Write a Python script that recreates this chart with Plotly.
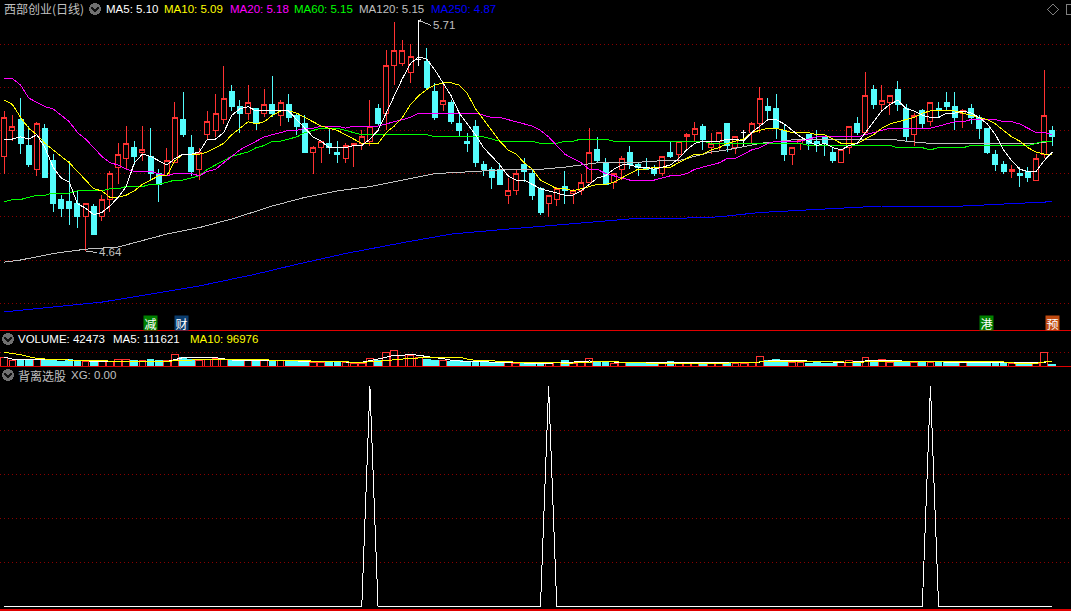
import plotly.graph_objects as go

W, H = 1071, 611

opens = [5.08,5.20,5.25,5.13,5.02,5.21,5.06,4.88,4.87,4.86,
 4.80,4.85,4.80,4.88,5.03,5.07,5.12,5.10,5.08,5.00,
 4.99,5.05,5.25,5.12,5.02,5.18,5.20,5.25,5.38,5.31,
 5.28,5.30,5.28,5.32,5.27,5.32,5.27,5.23,5.10,5.12,
 5.14,5.10,5.07,5.13,5.14,5.15,5.30,5.28,5.50,5.51,
 5.47,5.53,5.52,5.38,5.32,5.33,5.23,5.15,5.22,5.04,
 5.02,5.02,4.90,4.92,5.04,5.00,4.93,4.86,4.88,4.94,
 4.91,4.92,4.96,5.11,5.05,4.96,5.02,5.10,5.04,5.03,
 5.02,5.00,5.10,5.09,5.17,5.18,5.22,5.12,5.15,5.23,
 5.12,5.19,5.19,5.23,5.31,5.30,5.20,5.09,5.14,5.18,
 5.15,5.17,5.10,5.05,5.12,5.23,5.19,5.39,5.32,5.33,
 5.39,5.30,5.18,5.29,5.24,5.30,5.33,5.31,5.28,5.30,
 5.26,5.21,5.09,5.04,5.01,5.00,5.01,4.97,5.09,5.20]
closes = [5.26,5.22,5.14,5.04,5.23,4.98,4.86,4.84,4.84,4.80,
 4.86,4.72,4.88,5.00,5.09,5.14,5.08,5.11,5.00,4.95,
 5.06,5.26,5.18,5.01,5.10,5.24,5.28,5.35,5.31,5.28,
 5.33,5.23,5.32,5.28,5.33,5.26,5.22,5.10,5.12,5.15,
 5.12,5.09,5.13,5.14,5.17,5.22,5.23,5.50,5.57,5.57,
 5.54,5.53,5.40,5.26,5.34,5.24,5.20,5.14,5.05,5.02,
 4.98,4.95,4.92,5.00,5.01,4.90,4.82,4.90,4.93,4.92,
 4.92,4.96,5.10,5.06,4.95,5.00,5.07,5.04,5.03,5.02,
 5.00,5.08,5.08,5.15,5.18,5.21,5.16,5.14,5.19,5.13,
 5.17,5.19,5.23,5.35,5.29,5.21,5.09,5.12,5.16,5.14,
 5.14,5.14,5.06,5.11,5.22,5.19,5.36,5.32,5.34,5.36,
 5.32,5.17,5.27,5.23,5.33,5.29,5.31,5.26,5.29,5.26,
 5.21,5.10,5.04,5.01,5.02,4.99,4.98,5.07,5.27,5.17]
highs = [5.29,5.27,5.35,5.22,5.24,5.23,5.09,4.90,5.06,4.92,
 4.86,4.86,4.90,5.01,5.14,5.22,5.15,5.22,5.21,5.02,
 5.12,5.33,5.38,5.18,5.12,5.29,5.37,5.50,5.41,5.34,
 5.41,5.30,5.39,5.45,5.34,5.37,5.28,5.27,5.13,5.15,
 5.21,5.15,5.14,5.14,5.20,5.34,5.32,5.57,5.70,5.62,
 5.60,5.71,5.58,5.42,5.41,5.34,5.28,5.19,5.25,5.06,
 5.03,5.05,4.98,5.02,5.07,5.02,4.94,4.90,4.94,5.01,
 4.93,5.00,5.21,5.17,5.07,5.00,5.08,5.13,5.05,5.07,
 5.04,5.08,5.15,5.15,5.19,5.24,5.23,5.19,5.19,5.23,
 5.17,5.20,5.24,5.40,5.35,5.37,5.23,5.12,5.16,5.18,
 5.20,5.17,5.12,5.11,5.22,5.26,5.47,5.41,5.41,5.36,
 5.43,5.32,5.28,5.30,5.33,5.33,5.38,5.38,5.30,5.32,
 5.27,5.21,5.11,5.06,5.04,5.03,5.03,5.09,5.48,5.22]
lows = [5.00,5.15,5.09,5.03,4.99,4.98,4.82,4.80,4.76,4.75,
 4.64,4.72,4.78,4.82,4.95,5.02,5.04,5.06,4.97,4.87,
 4.99,5.05,5.17,4.99,4.97,5.16,5.17,5.23,5.29,5.19,
 5.25,5.20,5.26,5.26,5.22,5.24,5.18,5.10,5.00,5.05,
 5.09,5.05,5.05,5.03,5.11,5.13,5.22,5.20,5.41,5.50,
 5.42,5.50,5.39,5.25,5.29,5.23,5.17,5.10,5.03,4.99,
 4.93,4.95,4.86,4.90,4.96,4.88,4.81,4.80,4.85,4.86,
 4.86,4.90,4.96,5.05,4.95,4.93,4.97,5.02,4.99,5.02,
 4.99,4.99,5.07,5.05,5.11,5.15,5.11,5.09,5.11,5.10,
 5.09,5.13,5.14,5.19,5.25,5.16,5.06,5.04,5.11,5.11,
 5.10,5.08,5.05,5.05,5.09,5.18,5.18,5.30,5.29,5.27,
 5.29,5.15,5.13,5.21,5.22,5.26,5.29,5.20,5.21,5.23,
 5.16,5.09,5.01,5.00,4.98,4.94,4.96,4.97,5.07,5.13]

ma5 = [5.16,5.16,5.17,5.16,5.18,5.12,5.03,4.98,4.96,4.86,
 4.84,4.81,4.82,4.85,4.89,4.94,5.05,5.09,5.08,5.06,
 5.04,5.07,5.09,5.09,5.10,5.16,5.16,5.19,5.27,5.30,
 5.31,5.29,5.29,
 5.29,5.29,5.29,5.25,5.21,5.17,5.15,5.12,5.12,5.12,
 5.13,5.13,5.16,5.20,5.28,5.36,5.44,5.51,5.54,5.53,
 5.48,5.42,5.36,5.28,5.23,5.18,5.12,5.08,5.04,4.99,
 4.97,4.97,4.95,4.93,
 4.92,4.91,4.90,4.90,4.92,4.95,4.98,4.99,5.02,5.04,
 5.04,5.03,5.03,5.02,5.03,5.04,5.07,5.11,5.14,5.15,
 5.15,5.15,5.16,5.16,5.15,5.19,5.22,5.25,5.25,5.23,
 5.20,5.17,
 5.15,5.13,5.14,5.12,5.11,5.13,5.14,5.19,5.24,5.29,
 5.32,5.34,5.30,5.29,5.27,5.26,5.26,5.28,5.28,5.29,
 5.28,5.26,5.23,5.18,5.11,5.06,5.02,5.01,5.01,5.06,5.10]
ma10 = [5.34,5.32,5.26,5.21,5.18,5.14,5.11,5.08,5.05,5.01,4.97,4.93,4.92,4.89,
 4.89,4.90,4.92,4.95,4.97,4.99,4.99,5.06,5.09,5.09,5.09,5.10,5.12,5.14,5.18,5.21,5.24,5.23,5.24,
 5.27,5.29,5.29,5.28,5.26,5.24,5.22,5.21,5.20,5.18,5.16,5.14,5.14,5.14,5.19,5.22,5.26,5.32,5.36,5.39,5.41,5.42,5.42,5.41,5.37,5.30,5.25,5.20,5.15,5.11,5.09,5.05,
 5.02,4.97,4.95,4.93,4.93,4.92,4.93,4.94,4.95,4.95,4.96,4.98,5.00,5.02,5.02,5.03,5.03,5.03,5.05,5.07,5.09,5.09,5.11,5.12,5.14,5.15,5.16,5.19,5.20,5.21,5.21,5.20,5.19,5.19,
 5.19,5.18,5.18,5.16,5.14,5.14,5.14,5.16,5.18,5.21,5.23,5.24,5.25,5.26,5.28,5.29,5.29,5.29,5.29,5.28,5.27,5.26,5.25,5.23,5.20,5.17,5.15,5.12,5.10,5.09,5.09]
ma20 = [5.44,5.44,5.41,5.35,5.33,5.31,5.30,5.27,5.24,5.19,5.16,5.12,5.08,5.05,5.04,5.02,5.01,5.01,5.01,5.00,4.99,5.00,5.00,5.00,4.99,5.01,5.02,5.05,5.08,5.11,5.13,5.15,5.17,5.18,
 5.19,5.20,5.20,5.21,5.21,5.22,5.22,5.22,5.21,5.22,5.22,5.22,5.22,5.23,5.24,5.25,5.26,5.28,5.28,5.28,5.28,5.28,5.28,5.28,5.28,5.27,5.26,5.26,5.25,5.24,5.23,5.22,5.20,
 5.17,5.13,5.09,5.07,5.05,5.02,5.02,5.00,4.99,4.98,4.97,4.97,4.97,4.97,4.98,4.99,4.99,5.00,5.02,5.03,5.04,5.05,5.07,5.07,5.09,5.11,5.12,5.14,5.15,5.15,5.15,5.15,
 5.16,5.17,5.17,5.17,5.17,5.17,5.17,5.18,5.19,5.20,5.21,5.21,5.21,5.21,5.21,5.21,5.22,5.23,5.24,5.24,5.25,5.25,5.25,5.25,5.24,5.24,5.23,5.21,5.19,5.19,5.18]
ma60 = [4.87,4.88,4.88,4.89,4.90,4.90,4.91,4.91,4.91,4.92,4.92,4.92,4.92,4.93,4.93,4.94,4.94,4.94,4.95,4.95,4.96,4.97,4.97,4.98,4.99,5.02,5.04,5.06,5.08,5.09,5.10,5.12,5.13,
 5.15,5.15,5.16,5.17,5.19,5.20,5.21,5.21,5.21,5.20,5.19,
 5.18,5.18,5.18,5.18,5.18,5.18,5.18,5.18,5.18,5.17,5.17,5.17,5.17,5.17,5.17,5.17,5.16,5.15,5.15,5.15,5.15,5.15,5.14,
 5.14,5.14,5.15,5.15,5.16,5.16,5.16,5.16,5.15,5.15,5.15,5.15,5.15,5.15,5.15,5.15,5.15,5.15,5.15,5.15,5.14,5.14,5.14,5.14,5.14,5.14,5.14,5.14,5.14,5.14,5.14,5.14,
 5.13,5.13,5.13,5.13,5.13,5.13,5.13,5.13,5.13,5.13,5.13,5.12,5.12,5.12,5.12,5.11,5.12,5.12,5.12,5.12,5.13,5.13,5.13,5.13,5.13,5.13,5.13,5.13,5.14,5.15,5.15]
ma120_idx = [0,2,6,10,14,16,20,24,28,33,37,41,45,49,53,58,62,66,69,73,77,81,83,85,87,89,93,98,103,109,111,114,117,124,127,129]
ma120 = [4.59,4.60,4.63,4.65,4.66,4.68,4.72,4.75,4.79,4.85,4.89,4.92,4.94,4.97,5.00,5.01,5.02,5.02,5.03,5.05,5.05,5.06,5.06,5.08,5.10,5.11,5.14,5.16,5.16,5.16,5.15,5.14,5.14,5.14,5.14,5.15]
ma250_idx = [0,12,24,31,36,42,49,52,55,61,73,77,85,88,93,98,102,108,118,123,129]
ma250 = [4.36,4.405,4.48,4.535,4.58,4.63,4.68,4.70,4.72,4.74,4.78,4.79,4.795,4.80,4.82,4.83,4.835,4.85,4.85,4.86,4.87]

volumes = [197000,131000,131000,139000,139000,131000,139000,95000,146000,95000,
 95000,95000,95000,95000,139000,146000,117000,110000,146000,117000,
 117000,256000,197000,139000,110000,139000,168000,139000,117000,117000,
 110000,95000,117000,117000,110000,117000,95000,124000,80000,80000,
 95000,66000,66000,58000,58000,168000,110000,299000,343000,219000,
 219000,183000,153000,131000,131000,95000,110000,95000,95000,80000,
 80000,80000,73000,51000,51000,51000,51000,44000,80000,110000,
 51000,73000,168000,95000,80000,51000,66000,51000,44000,51000,
 51000,51000,88000,51000,80000,80000,66000,51000,66000,51000,
 51000,51000,73000,212000,124000,146000,131000,66000,66000,51000,
 80000,51000,51000,66000,124000,66000,190000,124000,146000,80000,
 110000,95000,66000,88000,80000,66000,66000,66000,66000,51000,
 66000,66000,66000,66000,58000,51000,51000,51000,285000,42473]
vol_ma5_idx = [0,1,2,4,8,10,20,22,26,28,36,44,47,48,49,50,51,52,53,54,55,56,57,58,62,66,69,72,74,76,84,92,95,97,100,104,107,109,112,118,124,126,128,129]
vol_ma5 = [197000,153000,146000,153000,131000,110000,95000,183000,183000,131000,110000,80000,190000,234000,234000,256000,234000,204000,183000,161000,124000,110000,102000,95000,73000,58000,73000,110000,102000,80000,80000,66000,131000,131000,95000,80000,124000,124000,95000,80000,80000,66000,80000,111621]
vol_ma10_idx = [0,1,2,3,4,6,8,12,16,20,21,23,26,29,36,44,46,47,48,50,52,56,57,58,59,61,62,63,64,68,69,71,72,73,75,76,77,81,88,93,95,99,102,104,106,109,115,117,123,124,127,128,129]
vol_ma10 = [299000,277000,248000,204000,168000,139000,131000,110000,95000,95000,117000,131000,146000,146000,117000,80000,102000,117000,146000,168000,183000,190000,153000,124000,124000,110000,102000,80000,73000,73000,58000,73000,88000,95000,95000,80000,73000,58000,58000,88000,95000,95000,102000,80000,88000,102000,102000,88000,88000,66000,58000,88000,96976]

xg_signal_days = [45, 67, 114]
flat_days = [51, 91]

header_texts = ["MA5: 5.10", "MA10: 5.09", "MA20: 5.18", "MA60: 5.15", "MA120: 5.15", "MA250: 4.87"]
volume_texts = ["VOLUME: 42473", "MA5: 111621", "MA10: 96976"]

RED = "#ff3232"; CYAN = "#54fcfc"; GRID = "#8a0000"; GREY = "#c0c0c0"
n = len(opens)
days = list(range(n))
for arr in (highs, lows, closes, ma5, ma10, ma20, ma60, volumes):
    assert len(arr) == n, len(arr)
assert len(ma120) == len(ma120_idx) and len(ma250) == len(ma250_idx)
assert len(vol_ma5) == len(vol_ma5_idx) and len(vol_ma10) == len(vol_ma10_idx)

xg = [1 if d in xg_signal_days else 0 for d in days]

def fy(px):
    return 1 - px / H
def fx(px):
    return px / W

fig = go.Figure()

# price panel
normal = [d for d in days if d not in flat_days]
fig.add_trace(go.Candlestick(
    x=normal, open=[opens[d] for d in normal], high=[highs[d] for d in normal],
    low=[lows[d] for d in normal], close=[closes[d] for d in normal],
    increasing=dict(line=dict(color=RED, width=1), fillcolor="#000000"),
    decreasing=dict(line=dict(color=CYAN, width=1), fillcolor=CYAN),
    whiskerwidth=0, xaxis="x", yaxis="y", hoverinfo="skip"))
fig.add_trace(go.Candlestick(
    x=flat_days, open=[opens[d] for d in flat_days], high=[highs[d] for d in flat_days],
    low=[lows[d] for d in flat_days], close=[closes[d] for d in flat_days],
    increasing=dict(line=dict(color="#ffffff", width=1), fillcolor="#ffffff"),
    decreasing=dict(line=dict(color="#ffffff", width=1), fillcolor="#ffffff"),
    whiskerwidth=0, xaxis="x", yaxis="y", hoverinfo="skip"))
for xs, ys, c in [(ma250_idx, ma250, "#0000ff"), (ma120_idx, ma120, GREY), (days, ma60, "#00ff00"),
                  (days, ma20, "#ff00ff"), (days, ma10, "#ffff00"), (days, ma5, "#ffffff")]:
    fig.add_trace(go.Scatter(x=xs, y=ys, mode="lines", line=dict(color=c, width=1), xaxis="x", yaxis="y", hoverinfo="skip"))

# volume panel
up = [c >= o for o, c in zip(opens, closes)]
fig.add_trace(go.Bar(
    x=days, y=volumes, width=0.84,
    marker=dict(color=["#000000" if u else CYAN for u in up],
                line=dict(color=[RED if u else CYAN for u in up], width=1)),
    xaxis="x2", yaxis="y2", hoverinfo="skip"))
fig.add_trace(go.Scatter(x=vol_ma5_idx, y=vol_ma5, mode="lines", line=dict(color="#ffffff", width=1), xaxis="x2", yaxis="y2", hoverinfo="skip"))
fig.add_trace(go.Scatter(x=vol_ma10_idx, y=vol_ma10, mode="lines", line=dict(color="#ffff00", width=1), xaxis="x2", yaxis="y2", hoverinfo="skip"))

# indicator panel
fig.add_trace(go.Scatter(x=days, y=xg, mode="lines", line=dict(color="#ffffff", width=1), xaxis="x3", yaxis="y3", hoverinfo="skip"))

xrange_ = [-0.533, 131.3]
xcommon = dict(range=xrange_, showgrid=False, zeroline=False, showticklabels=False, ticks="", showline=False, fixedrange=True)
ycommon = dict(zeroline=False, showticklabels=False, ticks="", showline=False, fixedrange=True,
               showgrid=True, gridcolor=GRID, griddash="1px,3px", gridwidth=1)

price_ticks = [5.6, 5.4, 5.2, 5.0, 4.8, 4.6, 4.4]
xg_ticks = [0.2, 0.4, 0.6, 0.8]

annotations = []
def label(px, py, text, color, size=12, family="Liberation Sans", anchor="left"):
    annotations.append(dict(x=fx(px), y=fy(py), xref="paper", yref="paper", text=text, showarrow=False,
                            xanchor=anchor, yanchor="middle", font=dict(color=color, size=size, family=family)))

cjk = "Noto Sans CJK SC"
label(2, 8.5, "西部创业(日线)", GREY, 12, cjk)
for px, t, c in zip([103.5, 161.5, 227.5, 291.5, 356.5, 428.5], header_texts,
                    ["#ffffff", "#ffff00", "#ff00ff", "#00ff00", GREY, "#0000ff"]):
    label(px, 8.5, t, c, 11.5)
for px, t, c in zip([16, 111, 188], volume_texts, ["#ffffff", "#ffffff", "#ffff00"]):
    label(px, 339, t, c, 11.5)
label(16, 375, "背离选股", GREY, 12, cjk)
label(69, 375, "XG: 0.00", GREY, 11.5)

for cx, t, bg in [(150.5, "减", "#008000"), (181.5, "财", "#0a3c6e"), (986.5, "港", "#008000"), (1052.5, "预", "#c04a10")]:
    annotations.append(dict(x=fx(cx), y=fy(323), xref="paper", yref="paper", text=t, showarrow=False,
                            xanchor="center", yanchor="middle", width=13, height=14, bgcolor=bg, borderpad=0,
                            font=dict(color="#ffffff", size=12, family=cjk)))

for day, price, txt, ax, ay in [(10, 4.64, "4.64", 11, 1), (51, 5.71, "5.71", 12, 5)]:
    annotations.append(dict(x=day, y=price, xref="x", yref="y", text=txt, showarrow=True, ax=ax, ay=ay,
                            xanchor="left", yanchor="middle", arrowcolor=GREY, arrowwidth=1, arrowhead=1, arrowsize=0.6,
                            standoff=0, font=dict(color=GREY, size=11.5, family="Liberation Sans")))

shapes = []
for py, lw in ((330.5, 1), (366.5, 1), (610, 2)):
    shapes.append(dict(type="line", xref="paper", yref="paper", x0=0, x1=1, y0=fy(py), y1=fy(py),
                       line=dict(color="#e00000", width=lw), layer="above"))

def icon(cx, cy):
    shapes.append(dict(type="circle", xref="paper", yref="paper", x0=fx(cx-6), x1=fx(cx+6), y0=fy(cy+6), y1=fy(cy-6),
                       fillcolor="#707070", line=dict(width=0)))
    path = f"M {fx(cx-3.5)} {fy(cy-1.5)} L {fx(cx)} {fy(cy+2)} L {fx(cx+3.5)} {fy(cy-1.5)}"
    shapes.append(dict(type="path", xref="paper", yref="paper", path=path, line=dict(color="#111111", width=1.5)))
icon(95, 9); icon(8, 339); icon(8, 375)

d = f"M {fx(1047.5)} {fy(9.5)} L {fx(1053)} {fy(4)} L {fx(1058.5)} {fy(9.5)} L {fx(1053)} {fy(15)} Z"
shapes.append(dict(type="path", xref="paper", yref="paper", path=d, line=dict(color="#808080", width=1)))
shapes.append(dict(type="rect", xref="paper", yref="paper", x0=fx(1066.5), x1=fx(1075), y0=fy(14.5), y1=fy(4.5),
                   line=dict(color="#808080", width=1)))

fig.update_layout(
    width=W, height=H, margin=dict(l=0, r=0, t=0, b=0), paper_bgcolor="#000000", plot_bgcolor="#000000",
    showlegend=False, boxgap=0.12, barmode="overlay", annotations=annotations, shapes=shapes,
    xaxis=dict(domain=[0, 1], anchor="y", rangeslider=dict(visible=False), **xcommon),
    xaxis2=dict(domain=[0, 1], anchor="y2", **xcommon),
    xaxis3=dict(domain=[0, 1], anchor="y3", **xcommon),
    yaxis=dict(domain=[fy(330), 1], range=[5.60 - 286 / 216, 5.60 + 44 / 216], tickvals=price_ticks, **ycommon),
    yaxis2=dict(domain=[fy(366), fy(330)], range=[0, 788000], tickvals=[300000], **ycommon),
    yaxis3=dict(domain=[0, fy(366)], range=[-4.7 / 220.3, 1 + 20.3 / 220.3], tickvals=xg_ticks, **ycommon),
)

post = ("var s=document.createElement('style');"
        "s.textContent='html,body{margin:0;padding:0;background:#000} .main-svg path{shape-rendering:crispEdges}';"
        "document.head.appendChild(s);")
fig.write_html("out.html", config={"displayModeBar": False}, post_script=post)
